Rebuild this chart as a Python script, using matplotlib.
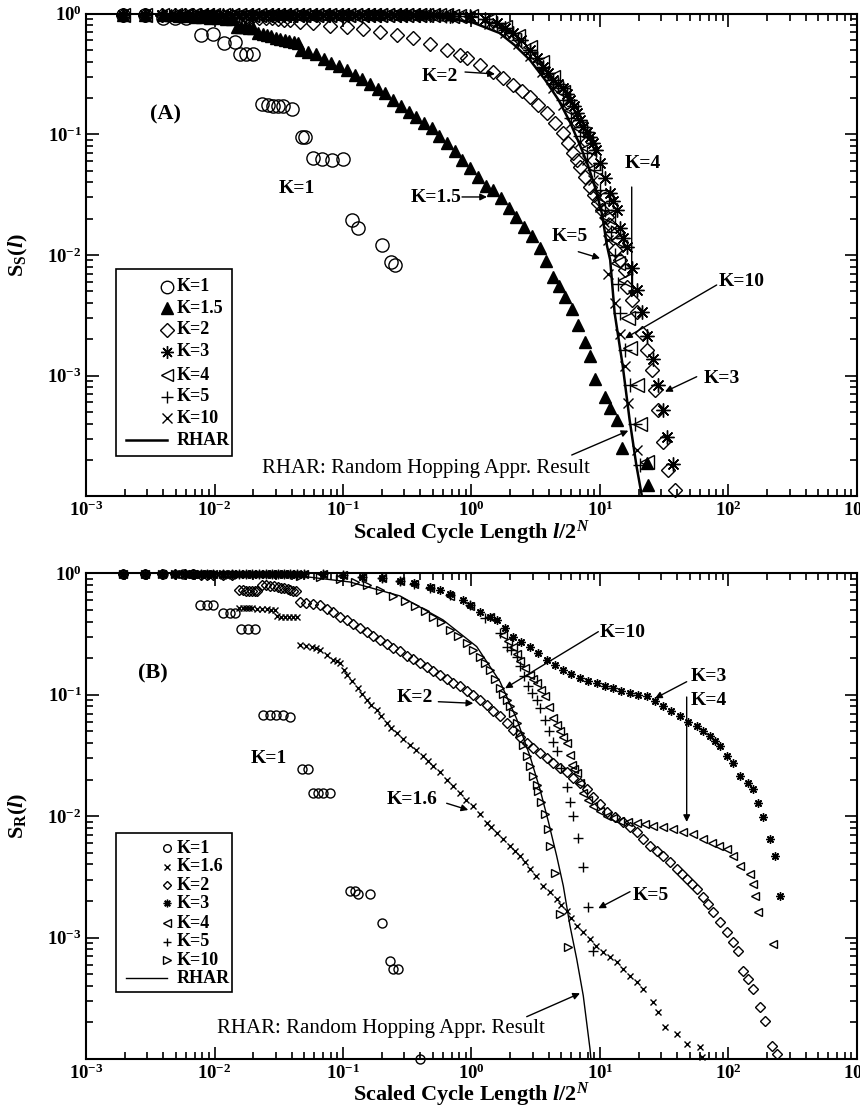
import matplotlib
matplotlib.use('Agg')
import matplotlib.pyplot as plt
from matplotlib.patches import Rectangle

plt.rcParams['font.family'] = ['Liberation Serif', 'DejaVu Serif']
plt.rcParams['font.weight'] = 'bold'
plt.rcParams['axes.labelweight'] = 'bold'
plt.rcParams['mathtext.fontset'] = 'custom'
plt.rcParams['mathtext.rm'] = 'Liberation Serif:bold'
plt.rcParams['mathtext.bf'] = 'Liberation Serif:bold'
plt.rcParams['mathtext.it'] = 'Liberation Serif:italic:bold'

# ================= panel (A): S_S(l) =================
# small-l part shared by the K>=3 curves (they all sit on S=1 there)
a_top_x = [0.00195, 0.0029, 0.0039, 0.0049, 0.0059, 0.0068, 0.0078, 0.0088, 0.0098, 0.0117, 0.0137,
           0.0156, 0.0176, 0.0195, 0.022, 0.025, 0.028, 0.031, 0.035, 0.039, 0.044, 0.049, 0.055, 0.062,
           0.07, 0.078, 0.088, 0.098, 0.11, 0.125, 0.14, 0.156, 0.175, 0.195, 0.22, 0.25, 0.28, 0.31,
           0.35, 0.39, 0.44]
a_top_y = [0.98, 0.98, 0.98, 0.98, 0.98, 0.98, 0.98, 0.98, 0.98, 0.98, 0.98,
           0.98, 0.98, 0.98, 0.98, 0.98, 0.98, 0.98, 0.98, 0.98, 0.98, 0.98, 0.98, 0.98,
           0.98, 0.98, 0.98, 0.98, 0.98, 0.978, 0.977, 0.976, 0.975, 0.974, 0.973, 0.972, 0.971, 0.97,
           0.97, 0.97, 0.97]

a_k1_x = [0.00195, 0.0029, 0.0040, 0.0049, 0.0060, 0.0078, 0.0097, 0.0119, 0.0145, 0.0158, 0.0175, 0.0200,
          0.0233, 0.0262, 0.0287, 0.0314, 0.0343, 0.0399, 0.0477, 0.0506, 0.0587, 0.0683, 0.0817, 0.1005,
          0.117, 0.1315, 0.200, 0.2365, 0.254]
a_k1_y = [0.975, 0.975, 0.91, 0.91, 0.91, 0.66, 0.67, 0.57, 0.58, 0.46, 0.46, 0.46,
          0.178, 0.175, 0.172, 0.172, 0.172, 0.161, 0.095, 0.095, 0.063, 0.062, 0.061, 0.062,
          0.0195, 0.0168, 0.0121, 0.0087, 0.0082]

a_k15_x = [0.00195, 0.0029, 0.0040, 0.0046, 0.0053, 0.0061, 0.0070, 0.0080, 0.0092, 0.0106, 0.0122, 0.0137,
           0.0149, 0.0160, 0.0172, 0.0185, 0.0198, 0.0219, 0.0237, 0.0256, 0.0277, 0.030, 0.0325, 0.0352,
           0.0381, 0.0412, 0.0446,
           0.0468, 0.0537, 0.0617, 0.0708, 0.0813, 0.0933, 0.107, 0.123, 0.141, 0.162, 0.186, 0.214,
           0.245, 0.282, 0.324, 0.372, 0.427, 0.490, 0.562, 0.646, 0.741, 0.851, 0.977, 1.122, 1.288,
           1.479, 1.698, 1.95, 2.239, 2.57, 2.951, 3.388, 3.80, 4.27, 4.79, 5.37, 6.03, 6.76, 7.59,
           8.32, 9.12, 10.96, 12.0, 13.5, 14.8, 23.4, 23.8]
a_k15_y = [0.975, 0.975, 0.97, 0.965, 0.96, 0.95, 0.94, 0.93, 0.92, 0.91, 0.905, 0.90,
           0.78, 0.775, 0.77, 0.765, 0.76, 0.69, 0.67, 0.66, 0.645, 0.63, 0.615, 0.60,
           0.59, 0.58, 0.57,
           0.50, 0.481, 0.460, 0.423, 0.392, 0.365, 0.340, 0.310, 0.284, 0.260, 0.238, 0.219,
           0.192, 0.172, 0.154, 0.138, 0.124, 0.112, 0.097, 0.0843, 0.0723, 0.0617, 0.0525, 0.0438,
           0.0372, 0.0344, 0.0295, 0.0245, 0.0206, 0.0171, 0.01445, 0.0115, 0.0089, 0.0066, 0.0055,
           0.00447, 0.00355, 0.00263, 0.0019, 0.00145, 0.00093, 0.00066, 0.00054, 0.00043, 0.00025,
           0.00019, 0.000124]

a_k2_x = [0.00195, 0.0029, 0.0039, 0.0049, 0.0059, 0.0068, 0.0078, 0.0088, 0.0098, 0.0117, 0.0137,
          0.0156, 0.0176, 0.0195, 0.022, 0.025, 0.028, 0.031, 0.035, 0.039,
          0.0463, 0.0585, 0.0793, 0.107, 0.143, 0.194, 0.263, 0.351, 0.475, 0.644, 0.814, 0.923, 1.164,
          1.47, 1.76, 2.10, 2.47, 2.85, 3.29, 3.87, 4.47, 5.15, 5.64, 6.17, 6.63, 6.98, 7.64, 8.36,
          8.98, 9.64, 10.4, 11.3, 12.0, 12.4, 13.1, 14.3, 15.7, 16.2, 17.7, 19.4, 21.2, 23.2, 25.4,
          26.8, 28.3, 30.9, 33.8, 38.4]
a_k2_y = [0.975, 0.975, 0.975, 0.97, 0.97, 0.965, 0.96, 0.96, 0.955, 0.95, 0.945,
          0.94, 0.935, 0.93, 0.92, 0.915, 0.91, 0.90, 0.89, 0.88,
          0.855, 0.834, 0.788, 0.773, 0.744, 0.707, 0.663, 0.627, 0.559, 0.499, 0.453, 0.428, 0.374,
          0.327, 0.292, 0.256, 0.228, 0.203, 0.175, 0.150, 0.124, 0.102, 0.0846, 0.0699, 0.0611,
          0.0535, 0.0442, 0.0365, 0.0314, 0.0269, 0.0236, 0.0206, 0.0177, 0.0152, 0.011, 0.0091,
          0.0075, 0.00542, 0.00423, 0.00336, 0.00225, 0.00163, 0.00111, 0.00076, 0.00052, 0.00028,
          0.000165, 0.000113]

a_k3_x = [0.475, 0.681, 0.973, 1.27, 1.58, 1.82, 2.10, 2.43, 2.85, 3.24, 3.60, 3.94, 4.31, 4.71, 5.15,
          5.53, 5.84, 6.28, 6.63, 6.98, 7.38, 7.92, 8.36, 8.83, 9.31, 10.0, 10.9, 12.0, 12.6, 13.6, 14.3,
          15.1, 16.2, 17.7, 19.4, 21.2, 23.2, 25.8, 28.3, 30.9, 33.2, 37.0]
a_k3_y = [0.97, 0.96, 0.953, 0.90, 0.834, 0.758, 0.689, 0.603, 0.499, 0.428, 0.360, 0.321, 0.281, 0.261,
          0.241, 0.215, 0.192, 0.171, 0.150, 0.131, 0.115, 0.104, 0.0948, 0.0846, 0.074, 0.0577, 0.0434,
          0.0326, 0.028, 0.0236, 0.0167, 0.0138, 0.0116, 0.00778, 0.00512, 0.00336, 0.00213, 0.00137,
          0.00084, 0.00052, 0.00031, 0.000185]

a_k4_x = [0.5, 0.56, 0.63, 0.71, 0.8, 1.0, 1.38, 1.82, 2.3, 2.85, 3.54, 4.31, 5.15, 6.0, 6.98, 8.1, 9.1,
          10.4, 11.5, 13.5, 13.9, 15.7, 16.5, 17.1, 19.4, 20.6, 23.2]
a_k4_y = [0.97, 0.97, 0.965, 0.96, 0.96, 0.95, 0.884, 0.773, 0.651, 0.528, 0.397, 0.298, 0.224, 0.159,
          0.112, 0.077, 0.0525, 0.030, 0.0207, 0.0133, 0.0085, 0.0062, 0.0030, 0.00168, 0.00084,
          0.0004, 0.000194]

a_k5_x = [0.5, 0.56, 0.63, 0.71, 0.8, 1.0, 1.38, 1.82, 2.3, 2.85, 3.54, 4.31, 5.15, 6.0, 6.98, 7.9, 9.0,
          10.0, 10.9, 12.2, 13.0, 13.8, 14.3, 15.7, 17.1, 18.8, 20.6]
a_k5_y = [0.97, 0.965, 0.96, 0.96, 0.955, 0.94, 0.85, 0.73, 0.603, 0.48, 0.353, 0.26, 0.192, 0.137,
          0.0967, 0.070, 0.0506, 0.0344, 0.0236, 0.0156, 0.010, 0.0057, 0.0033, 0.00163, 0.00084,
          0.0004, 0.00018]

a_k10_x = [0.5, 0.56, 0.63, 0.71, 0.8, 1.0, 1.38, 1.82, 2.3, 2.85, 3.54, 4.31, 5.15, 6.0, 6.98, 7.9,
           8.83, 9.5, 10.0, 10.8, 11.5, 11.5, 13.0, 14.3, 15.7, 16.5, 19.4]
a_k10_y = [0.97, 0.965, 0.96, 0.955, 0.95, 0.918, 0.818, 0.689, 0.559, 0.445, 0.328, 0.241, 0.174, 0.124,
           0.0863, 0.061, 0.0417, 0.0314, 0.025, 0.0188, 0.0133, 0.0070, 0.0040, 0.0022, 0.00119,
           0.00059, 0.00024]

a_rhar_x = [0.001, 0.1, 0.475, 1.0, 1.65, 2.16, 2.85, 3.75, 4.76, 5.84, 6.98, 8.1, 9.3, 10.4, 11.3, 12.0,
            13.0, 15.0, 17.0, 19.2, 21.2]
a_rhar_y = [1.0, 0.99, 0.953, 0.85, 0.69, 0.548, 0.412, 0.281, 0.192, 0.126, 0.0813, 0.0545, 0.0344,
            0.0215, 0.0121, 0.0091, 0.0033, 0.00122, 0.00043, 0.00018, 0.0001]

# ================= panel (B): S_R(l) =================
b_top_x = [0.00195, 0.0029, 0.0039, 0.0049, 0.0059, 0.0068, 0.0078, 0.0088, 0.0098, 0.0117, 0.0137,
           0.0156, 0.0176, 0.0195, 0.022, 0.025, 0.028, 0.031, 0.035, 0.039, 0.044]
b_top_y = [0.995, 0.995, 0.995, 0.995, 0.995, 0.995, 0.995, 0.995, 0.995, 0.995, 0.995,
           0.995, 0.995, 0.995, 0.995, 0.995, 0.995, 0.995, 0.995, 0.995, 0.995]

b_k1_x = [0.00195, 0.0029, 0.0040, 0.0057, 0.0068, 0.0077, 0.0087, 0.0098, 0.0117, 0.0132, 0.0145, 0.0162,
          0.0183, 0.0206, 0.0239, 0.0269, 0.0303, 0.0342, 0.0386, 0.0477, 0.0537, 0.0587, 0.0643, 0.0701,
          0.0792, 0.113, 0.124, 0.131, 0.162, 0.200, 0.232, 0.246, 0.268, 0.397]
b_k1_y = [0.995, 0.995, 0.985, 0.985, 0.985, 0.55, 0.55, 0.55, 0.47, 0.47, 0.47, 0.346,
          0.346, 0.346, 0.0685, 0.0685, 0.0685, 0.0685, 0.066, 0.0245, 0.0245, 0.0156, 0.0156, 0.0156,
          0.0156, 0.00242, 0.00242, 0.00227, 0.00227, 0.00133, 0.00064, 0.00055, 0.00055, 0.0001]

b_k16_x = [0.00195, 0.0029, 0.0039, 0.0049, 0.0059, 0.0068, 0.0078, 0.0088, 0.0098, 0.0117, 0.0137,
           0.0156, 0.0166, 0.0176, 0.0186, 0.0195, 0.0215, 0.0235, 0.0255, 0.0275, 0.0295, 0.0306, 0.033,
           0.0355, 0.038, 0.041, 0.044,
           0.0463, 0.0515, 0.0571, 0.0617, 0.0662, 0.0751, 0.0840, 0.0898, 0.0948, 0.1018, 0.1069,
           0.1175, 0.1315, 0.1405, 0.1528, 0.1651, 0.1830, 0.1976, 0.2189, 0.2364, 0.2618, 0.2930,
           0.3322, 0.3700, 0.4216, 0.4586, 0.5044, 0.5687, 0.6412, 0.7178, 0.8138, 0.9061, 1.033, 1.164,
           1.313, 1.418, 1.571, 1.758, 1.993, 2.180, 2.385, 2.609, 2.853, 3.177, 3.622, 4.083, 4.603,
           4.972, 5.507, 5.948, 6.588, 7.375, 8.36, 9.31, 10.61, 11.96, 13.49, 15.10, 17.12, 19.41,
           21.73, 25.99, 28.42, 32.05, 39.53, 47.28, 60.0, 61.85]
b_k16_y = [0.995, 0.995, 0.99, 0.985, 0.98, 0.975, 0.97, 0.965, 0.96, 0.955, 0.95,
           0.52, 0.52, 0.52, 0.52, 0.515, 0.51, 0.51, 0.505, 0.50, 0.50, 0.445, 0.44,
           0.44, 0.44, 0.435, 0.435,
           0.2576, 0.2527, 0.2466, 0.2410, 0.2343, 0.2132, 0.1939, 0.1885, 0.1822, 0.1605, 0.146,
           0.1303, 0.1135, 0.1019, 0.091, 0.0828, 0.0753, 0.0672, 0.0585, 0.0536, 0.0484, 0.0435,
           0.0388, 0.035, 0.0311, 0.0284, 0.0258, 0.0229, 0.020, 0.0177, 0.01557, 0.01371, 0.01208,
           0.01033, 0.00883, 0.00807, 0.00731, 0.00643, 0.00567, 0.00518, 0.00469, 0.00416, 0.00365,
           0.0032, 0.00266, 0.00236, 0.00207, 0.00185, 0.00166, 0.00144, 0.00125, 0.00111, 0.00097,
           0.000858, 0.000754, 0.00069, 0.000624, 0.00055, 0.000485, 0.00043, 0.000377, 0.000293,
           0.000242, 0.000183, 0.000161, 0.000133, 0.000125, 0.000103]

b_k2_x = [0.00195, 0.0029, 0.0039, 0.0049, 0.0059, 0.0068, 0.0078, 0.0088, 0.0098, 0.0117, 0.0137,
          0.0156, 0.0166, 0.0176, 0.0186, 0.0195, 0.0205, 0.0215, 0.0235, 0.025, 0.027, 0.029, 0.031,
          0.033, 0.035, 0.037, 0.039, 0.041, 0.043,
          0.0463, 0.0515, 0.0584, 0.0662, 0.0751, 0.0836, 0.0948, 0.1074, 0.1196, 0.1356, 0.1537, 0.1712,
          0.1940, 0.2200, 0.2449, 0.2778, 0.3149, 0.3505, 0.3974, 0.4505, 0.5018, 0.5687, 0.6447,
          0.7178, 0.8138, 0.9226, 1.027, 1.164, 1.320, 1.470, 1.667, 1.889, 2.104, 2.385, 2.704,
          3.010, 3.413, 3.869, 4.308, 4.884, 5.537, 6.165, 6.988, 7.922, 8.822, 10.0, 11.34, 13.09,
          15.10, 17.12, 19.41, 21.61, 24.50, 27.77, 30.93, 35.05, 39.73, 43.46, 47.53, 52.00, 56.88,
          63.34, 69.28, 75.76, 85.88, 97.34, 108.4, 118.6, 129.7, 141.9, 155.1, 175.9, 192.3, 218.0,
          238.5]
b_k2_y = [0.995, 0.995, 0.99, 0.99, 0.985, 0.98, 0.975, 0.97, 0.97, 0.965, 0.96,
          0.73, 0.73, 0.72, 0.72, 0.72, 0.72, 0.71, 0.80, 0.80, 0.79, 0.78, 0.77,
          0.76, 0.75, 0.74, 0.73, 0.72, 0.71,
          0.581, 0.570, 0.559, 0.549, 0.509, 0.481, 0.440, 0.413, 0.383, 0.353, 0.329, 0.305,
          0.283, 0.262, 0.243, 0.227, 0.209, 0.198, 0.182, 0.170, 0.157, 0.146, 0.135,
          0.1255, 0.117, 0.1078, 0.100, 0.0910, 0.0828, 0.0739, 0.0663, 0.0589, 0.0516, 0.0452, 0.0403,
          0.0367, 0.0332, 0.0304, 0.0276, 0.0251, 0.0229, 0.0208, 0.0189, 0.0166, 0.0145, 0.01248,
          0.01072, 0.00976, 0.00887, 0.00807, 0.00735, 0.00643, 0.00564, 0.00513, 0.00466, 0.00416,
          0.00365, 0.00332, 0.00302, 0.00275, 0.0025, 0.00215, 0.00188, 0.00162, 0.00134, 0.00111,
          0.000917, 0.000773, 0.00053, 0.000455, 0.000377, 0.000268, 0.000206, 0.000128, 0.00011]

b_k3_x = [0.05, 0.07, 0.1, 0.14, 0.2, 0.28, 0.36,
          0.475, 0.5687, 0.680, 0.859, 0.973, 1.164, 1.393, 1.579, 1.823, 2.104, 2.428, 2.853, 3.292,
          3.869, 4.466, 5.154, 5.948, 6.988, 8.064, 9.478, 10.94, 12.62, 14.57, 17.12, 19.76, 23.22,
          26.79, 30.93, 35.69, 41.94, 48.40, 56.88, 63.34, 71.78, 78.52, 85.88, 97.34, 108.4, 122.9,
          141.9, 155.1, 169.7, 185.6, 210.4, 230.1, 251.7]
b_k3_y = [0.99, 0.98, 0.96, 0.94, 0.91, 0.87, 0.83,
          0.776, 0.729, 0.676, 0.603, 0.549, 0.481, 0.437, 0.413, 0.355, 0.301, 0.2725, 0.249, 0.2214,
          0.194, 0.1764, 0.1605, 0.1488, 0.1372, 0.1303, 0.1248, 0.1186, 0.1135, 0.1078, 0.1033, 0.100,
          0.0968, 0.0893, 0.0801, 0.0739, 0.0663, 0.060, 0.0549, 0.0506, 0.0454, 0.0419, 0.0376,
          0.0311, 0.0275, 0.0213, 0.0188, 0.0166, 0.0129, 0.00976, 0.00643, 0.00466, 0.00219]

b_k4_x = [0.05, 0.07, 0.1, 0.14, 0.2, 0.28, 0.36,
          0.475, 0.680, 0.973, 1.393, 1.758, 1.923, 2.104, 2.259, 2.385, 2.609, 2.853, 3.010, 3.216,
          3.474, 3.733, 4.010, 4.332, 4.627, 4.884, 5.154, 5.507, 5.84, 6.02, 6.28, 6.59, 6.988, 7.41,
          8.064, 8.87, 10.0, 11.27, 12.62, 14.31, 16.52, 19.31, 22.39, 25.99, 30.93, 37.19, 44.25,
          53.22, 63.67, 74.0, 84.35, 96.8, 109.0, 122.9, 147.0, 156.0, 160.8, 170.6, 223.2]
b_k4_y = [0.99, 0.98, 0.96, 0.94, 0.91, 0.87, 0.82,
          0.757, 0.651, 0.539, 0.437, 0.311, 0.278, 0.249, 0.217, 0.188, 0.1667, 0.146, 0.135, 0.1248,
          0.110, 0.0968, 0.0797, 0.0644, 0.0567, 0.0499, 0.0452, 0.0401, 0.0321, 0.0266, 0.0246,
          0.0227, 0.0189, 0.01557, 0.01371, 0.01208, 0.01093, 0.0100, 0.00957, 0.0091, 0.00896,
          0.00883, 0.00855, 0.00827, 0.00807, 0.00778, 0.00742, 0.00707, 0.00643, 0.00605, 0.00564,
          0.00532, 0.00469, 0.00388, 0.00332, 0.00275, 0.0022, 0.00161, 0.000883]

b_k5_x = [0.05, 0.07, 0.1, 0.14, 0.2, 0.28, 0.36,
          0.475, 0.68, 0.97, 1.28, 1.667, 1.879, 2.03, 2.248, 2.385, 2.563, 2.767, 2.956, 3.216, 3.413,
          3.733, 4.01, 4.332, 4.603, 4.97, 5.507, 5.84, 6.2, 6.78, 7.41, 8.11, 8.87]
b_k5_y = [0.99, 0.98, 0.96, 0.94, 0.91, 0.87, 0.82,
          0.76, 0.66, 0.55, 0.43, 0.321, 0.2457, 0.2343, 0.2064, 0.1709, 0.1432, 0.117, 0.1038, 0.091,
          0.0777, 0.0623, 0.0506, 0.0411, 0.0342, 0.0251, 0.0174, 0.0132, 0.010, 0.00665, 0.00384,
          0.00177, 0.000777]

b_k10_x = [0.0463, 0.0662, 0.0948, 0.1240, 0.1537, 0.194, 0.2449, 0.3037, 0.3633, 0.4346, 0.5018,
           0.5788, 0.680, 0.7853, 0.9176, 1.027, 1.164, 1.274, 1.393, 1.524, 1.667, 1.758, 1.879,
           1.993, 2.115, 2.247, 2.385, 2.517, 2.689, 2.853, 3.026, 3.216, 3.311, 3.474, 3.733, 3.904,
           4.083, 4.466, 4.884, 5.667]
b_k10_y = [0.95, 0.932, 0.898, 0.848, 0.801, 0.729, 0.651, 0.592, 0.539, 0.49, 0.44,
           0.398, 0.342, 0.305, 0.266, 0.234, 0.2064, 0.183, 0.1605, 0.1353, 0.1135, 0.1019, 0.091,
           0.0812, 0.0707, 0.0585, 0.0484, 0.0388, 0.0311, 0.0261, 0.0213, 0.0179, 0.0160, 0.01296,
           0.01033, 0.00778, 0.00567, 0.00338, 0.00156, 0.00083]

b_rhar_x = [0.001, 0.01889, 0.0463, 0.1133, 0.2778, 0.6002, 1.098, 1.667, 2.247, 2.853, 3.413, 3.961,
            4.603, 5.182, 5.84, 6.59, 7.41, 8.36, 8.5]
b_rhar_y = [1.0, 0.999, 0.95, 0.848, 0.651, 0.413, 0.249, 0.128, 0.0631, 0.0311, 0.0166, 0.00905,
            0.00469, 0.00266, 0.00125, 0.000665, 0.000332, 0.000121, 0.0001]

# legend entries (marker, filled, relative size, label)
a_legend = [('o', False, 1.0, 'K=1'), ('^', True, 1.0, 'K=1.5'), ('D', False, 0.75, 'K=2'),
            ((8, 2, 0), False, 1.0, 'K=3'), ('<', False, 1.0, 'K=4'), ('+', False, 1.0, 'K=5'),
            ('x', False, 0.8, 'K=10')]
b_legend = [('o', False, 1.0, 'K=1'), ('x', False, 0.9, 'K=1.6'), ('D', False, 0.8, 'K=2'),
            ((8, 2, 0), False, 1.0, 'K=3'), ('<', False, 1.0, 'K=4'), ('+', False, 1.1, 'K=5'),
            ('>', False, 1.0, 'K=10')]

FS_TICK = 13.5
FS_ANN = 14
FS_LAB = 16
FS_NOTE = 15


def style_axes(ax):
    ax.set_xscale('log')
    ax.set_yscale('log')
    ax.set_xlim(1e-3, 1e3)
    ax.set_ylim(1e-4, 1)
    ax.tick_params(which='both', direction='in', top=True, right=True, width=1.2)
    ax.tick_params(which='major', length=9, labelsize=FS_TICK, pad=3)
    ax.tick_params(which='minor', length=5)
    ax.set_yticks([1e-3, 1e-2, 1e-1, 1])
    for s in ax.spines.values():
        s.set_linewidth(1.5)


def mark(ax, x, y, m, size, filled=False, mew=1.0):
    ax.plot(x, y, linestyle='none', marker=m, markersize=size,
            markerfacecolor='black' if filled else 'none', markeredgecolor='black',
            markeredgewidth=mew, clip_on=False)


def draw_legend(ax, entries, rows, size, lw, box):
    x0, x1, yb, yt = box
    ax.add_patch(Rectangle((x0, yb), x1 - x0, yt - yb, transform=ax.transAxes, fill=False,
                           edgecolor='black', linewidth=1.2))
    for (m, filled, scale, lab), fy in zip(entries, rows[:-1]):
        ax.plot([0.1047], [fy], transform=ax.transAxes, linestyle='none', marker=m, markersize=size * scale,
                markerfacecolor='black' if filled else 'none', markeredgecolor='black', markeredgewidth=1.0)
        ax.text(0.117, fy, lab, transform=ax.transAxes, fontsize=FS_ANN - 1, va='center', ha='left')
    ax.plot([0.0519, 0.1047], [rows[-1], rows[-1]], transform=ax.transAxes, color='black', linewidth=lw)
    ax.text(0.117, rows[-1], 'RHAR', transform=ax.transAxes, fontsize=FS_ANN - 1, va='center', ha='left')


def arrow(ax, start, end, lw=1.0):
    ax.annotate('', xy=end, xytext=start, xycoords='axes fraction', textcoords='axes fraction',
                arrowprops=dict(arrowstyle='-|>', color='black', lw=lw, mutation_scale=10,
                                shrinkA=0, shrinkB=0))


def label(ax, fx, fy, s, size=FS_ANN, weight='bold'):
    ax.text(fx, fy, s, transform=ax.transAxes, fontsize=size, fontweight=weight, ha='center', va='center')


fig = plt.figure(figsize=(8.6, 11.06), dpi=100)
axA = fig.add_axes([86 / 860, 1 - 496.3 / 1106, 771 / 860, 482.8 / 1106])
axB = fig.add_axes([86 / 860, 1 - 1059 / 1106, 771 / 860, 485.7 / 1106])

# ----- panel A -----
style_axes(axA)
mark(axA, a_k1_x, a_k1_y, 'o', 9.5)
mark(axA, a_k15_x, a_k15_y, '^', 9, filled=True)
mark(axA, a_k2_x, a_k2_y, 'D', 7.5)
mark(axA, a_top_x + a_k3_x, a_top_y + a_k3_y, (8, 2, 0), 10)
mark(axA, a_top_x + a_k4_x, a_top_y + a_k4_y, '<', 9.5)
mark(axA, a_top_x + a_k5_x, a_top_y + a_k5_y, '+', 9.5)
mark(axA, a_top_x + a_k10_x, a_top_y + a_k10_y, 'x', 7.5)
axA.plot(a_rhar_x, a_rhar_y, color='black', linewidth=1.8)

axA.set_xlabel(r'Scaled Cycle Length $\mathit{l/2}^{\mathit{N}}$', fontsize=FS_LAB, labelpad=-1)
axA.set_ylabel(r'S$_{\mathrm{S}}$($\mathit{l}$)', fontsize=FS_LAB)
axA.yaxis.set_label_coords(-0.072, 0.5)

label(axA, 0.1035, 0.790, '(A)', size=16)
label(axA, 0.2737, 0.6375, 'K=1')
label(axA, 0.454, 0.618, 'K=1.5')
arrow(axA, (0.4877, 0.620), (0.5201, 0.620))
label(axA, 0.459, 0.870, 'K=2')
arrow(axA, (0.4916, 0.8788), (0.5305, 0.8747))
label(axA, 0.7224, 0.6883, 'K=4')
arrow(axA, (0.7078, 0.6406), (0.7078, 0.4107))
label(axA, 0.6278, 0.5371, 'K=5')
arrow(axA, (0.6385, 0.5066), (0.6667, 0.4930))
label(axA, 0.8508, 0.4439, 'K=10')
arrow(axA, (0.818, 0.4377), (0.6991, 0.3273))
label(axA, 0.8249, 0.245, 'K=3')
arrow(axA, (0.7921, 0.2477), (0.751, 0.2167))
label(axA, 0.441, 0.0586, 'RHAR: Random Hopping Appr. Result', size=FS_NOTE, weight='normal')
arrow(axA, (0.630, 0.0855), (0.7034, 0.1359))

draw_legend(axA, a_legend, [0.4342, 0.3894, 0.3445, 0.2995, 0.2511, 0.2062, 0.1613, 0.1166],
            9, 1.8, (0.0389, 0.1898, 0.0835, 0.4702))

# ----- panel B -----
style_axes(axB)
mark(axB, b_k1_x, b_k1_y, 'o', 6.5)
mark(axB, b_k16_x, b_k16_y, 'x', 5)
mark(axB, b_k2_x, b_k2_y, 'D', 5)
mark(axB, b_top_x + b_k3_x, b_top_y + b_k3_y, (8, 2, 0), 6)
mark(axB, b_top_x + b_k4_x, b_top_y + b_k4_y, '<', 6)
mark(axB, b_top_x + b_k5_x, b_top_y + b_k5_y, '+', 7)
mark(axB, b_top_x + b_k10_x, b_top_y + b_k10_y, '>', 6)
axB.plot(b_rhar_x, b_rhar_y, color='black', linewidth=1.0)

axB.set_xlabel(r'Scaled Cycle Length $\mathit{l/2}^{\mathit{N}}$', fontsize=FS_LAB, labelpad=-1)
axB.set_ylabel(r'S$_{\mathrm{R}}$($\mathit{l}$)', fontsize=FS_LAB)
axB.yaxis.set_label_coords(-0.072, 0.5)

label(axB, 0.0863, 0.7947, '(B)', size=16)
label(axB, 0.2374, 0.6197, 'K=1')
label(axB, 0.4267, 0.7433, 'K=2')
arrow(axB, (0.457, 0.7356), (0.5023, 0.7323))
label(axB, 0.4235, 0.5333, 'K=1.6')
arrow(axB, (0.4678, 0.5265), (0.4958, 0.5127))
label(axB, 0.6958, 0.8771, 'K=10')
arrow(axB, (0.6645, 0.8798), (0.5435, 0.7632))
label(axB, 0.808, 0.7865, 'K=3')
arrow(axB, (0.7791, 0.7768), (0.738, 0.7426))
label(axB, 0.808, 0.7371, 'K=4')
arrow(axB, (0.7791, 0.7453), (0.7791, 0.488))
label(axB, 0.7328, 0.3356, 'K=5')
arrow(axB, (0.7056, 0.3445), (0.6645, 0.3103))
label(axB, 0.3826, 0.0638, 'RHAR: Random Hopping Appr. Result', size=FS_NOTE, weight='normal')
arrow(axB, (0.5716, 0.0871), (0.6407, 0.1353))

draw_legend(axB, b_legend, [0.4338, 0.3959, 0.3582, 0.3206, 0.2794, 0.2415, 0.2038, 0.1662],
            5.5, 1.0, (0.0389, 0.1898, 0.1373, 0.4647))

fig.savefig('out.png', dpi=100)
